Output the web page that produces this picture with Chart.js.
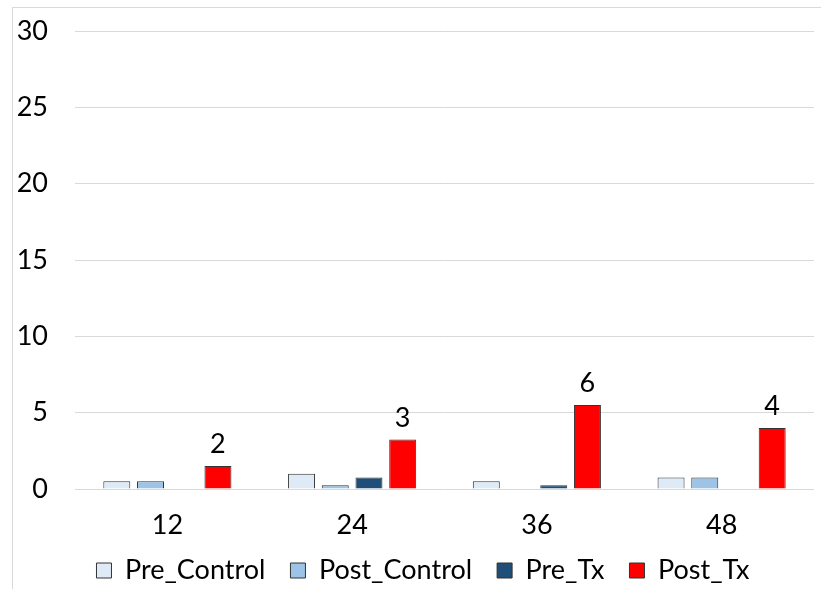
<!DOCTYPE html>
<html>
<head>
<meta charset="utf-8">
<script src="https://cdn.jsdelivr.net/npm/chart.js@4"></script>
<style>
  html, body { margin: 0; padding: 0; background: #fff; overflow: hidden; }
  #wrap { position: relative; width: 821px; height: 589px; }
  #frame { position: absolute; left: 12px; top: 7px; width: 900px; height: 700px;
           border-left: 1px solid #d9d9d9; border-top: 1px solid #d9d9d9; box-sizing: border-box; }
  canvas { position: absolute; left: 0; top: 0; }
</style>
</head>
<body>
<div id="wrap">
  <div id="frame"></div>
  <canvas id="c" width="821" height="589"></canvas>
</div>
<script>
const categories = ['12', '24', '36', '48'];
const preControl = [0.5, 1, 0.5, 0.75];
const postControl = [0.5, 0.25, 0, 0.75];
const preTx = [0, 0.75, 0.25, 0];
const postTx = [1.5, 3.25, 5.5, 4];
const postTxLabels = ['2', '3', '6', '4'];
const yTicks = [0, 5, 10, 15, 20, 25, 30];

const FONT = 'Lato';
const FS = 27;

const labelPlugin = {
  id: 'postTxLabels',
  afterDatasetsDraw(chart) {
    const ctx = chart.ctx;
    const meta = chart.getDatasetMeta(3);
    ctx.save();
    ctx.font = FS + 'px ' + FONT;
    ctx.fillStyle = '#000';
    ctx.textAlign = 'center';
    ctx.textBaseline = 'bottom';
    meta.data.forEach((bar, i) => {
      ctx.fillText(postTxLabels[i], bar.x, bar.y - 8);
    });
    ctx.restore();
  }
};

const shiftPlugin = {
  id: 'shiftLegend',
  afterLayout(chart) {
    const lg = chart.legend;
    const dx = 16, dy = 5;
    lg.left += dx; lg.right += dx;
    lg.top += dy; lg.bottom += dy;
    chart.scales.x.bottom = chart.height;
  }
};

new Chart(document.getElementById('c'), {
  type: 'bar',
  data: {
    labels: categories,
    datasets: [
      { label: 'Pre_Control', data: preControl, backgroundColor: '#DEEBF7', borderColor: '#333', borderWidth: 1 },
      { label: 'Post_Control', data: postControl, backgroundColor: '#9DC3E6', borderColor: '#333', borderWidth: 1 },
      { label: 'Pre_Tx', data: preTx, backgroundColor: '#1F4E79', borderColor: '#333', borderWidth: 1 },
      { label: 'Post_Tx', data: postTx, backgroundColor: '#FF0000', borderColor: '#333', borderWidth: 1 }
    ]
  },
  options: {
    responsive: false,
    animation: false,
    devicePixelRatio: 1,
    layout: { padding: { left: 0, right: 7, top: 31, bottom: 0 } },
    datasets: { bar: { categoryPercentage: 0.73, barPercentage: 0.8 } },
    scales: {
      x: {
        grid: { display: false, drawTicks: false },
        border: { display: false },
        ticks: { font: { family: FONT, size: FS }, color: '#000', padding: 20 },
        afterFit(s) { s.height = 38; s.paddingLeft = 0; s.paddingRight = 0; }
      },
      y: {
        min: 0, max: 30,
        afterBuildTicks(s) { s.ticks = yTicks.map(v => ({ value: v })); },
        grid: { color: '#d9d9d9', drawTicks: false, lineWidth: 1 },
        border: { display: false },
        ticks: { font: { family: FONT, size: FS }, color: '#000', padding: 27 },
        afterFit(s) { s.width = 75; s.paddingTop = 0; s.paddingBottom = 0; }
      }
    },
    plugins: {
      legend: {
        position: 'bottom',
        labels: {
          font: { family: FONT, size: FS },
          color: '#000',
          boxWidth: 15, boxHeight: 15,
          padding: 25
        }
      },
      tooltip: { enabled: false }
    }
  },
  plugins: [labelPlugin, shiftPlugin]
});
</script>
</body>
</html>
